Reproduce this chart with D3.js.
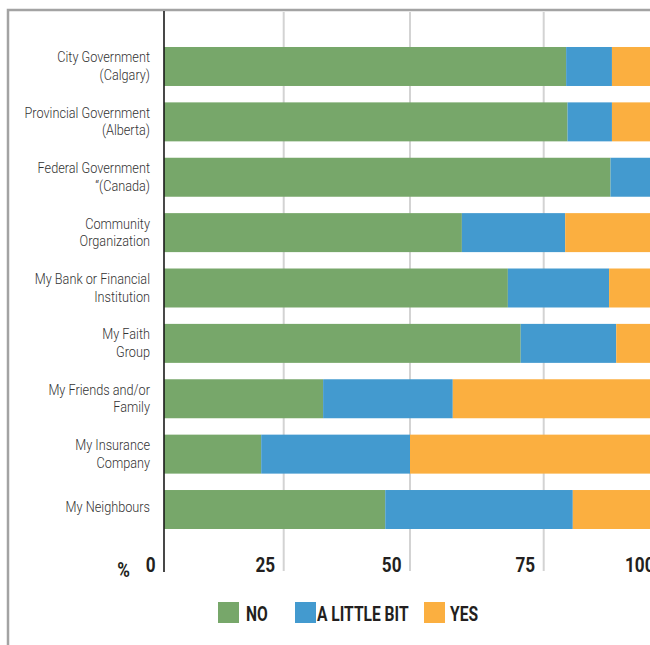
<!DOCTYPE html>
<html>
<head>
<meta charset="utf-8">
<script src="https://cdn.jsdelivr.net/npm/d3@7"></script>
<style>
  html, body { margin: 0; padding: 0; background: #fff; }
  svg { display: block; }
  .cat { font-family: "Roboto", "Noto Sans", sans-serif; font-weight: 300; font-size: 15.5px; fill: #333; }
  .bold { font-family: "Roboto", "Noto Sans", sans-serif; font-weight: bold; font-size: 19.5px; fill: #231f20; }
</style>
</head>
<body>
<svg id="chart" width="650" height="645"></svg>
<script>
// Survey answers per organisation, in percent
const categories = [
  "City Government\n(Calgary)",
  "Provincial Government\n(Alberta)",
  "Federal Government\n\u201C(Canada)",
  "Community\nOrganization",
  "My Bank or Financial\nInstitution",
  "My Faith\nGroup",
  "My Friends and/or\nFamily",
  "My Insurance\nCompany",
  "My Neighbours"
];
const noValues     = [79.7, 80.0, 89.0, 59.7, 68.3, 70.7, 32.8, 20.3, 45.1];
const littleValues = [ 9.6,  9.3, 10.0, 19.8, 20.4, 19.5, 25.2, 29.7, 36.0];
const yesValues    = [10.7, 10.7,  1.0, 20.5, 11.3,  9.8, 42.0, 50.0, 18.9];

const seriesKeys   = ["no", "little", "yes"];
const seriesLabels = ["NO", "A LITTLE BIT", "YES"];
const seriesColors = ["#77a76a", "#439acf", "#fbaf40"];
const tickValues   = [0, 25, 50, 75, 100];

const rows = categories.map((c, i) => ({
  cat: c, no: noValues[i], little: littleValues[i], yes: yesValues[i]
}));

const svg = d3.select("#chart");

// Condensed look: text squeezed horizontally around its anchor point
function condensed(parent, px, py, k) {
  return parent.append("g")
    .attr("transform", `translate(${px},${py}) scale(${k},1)`)
    .append("text");
}

// Outer frame (only top and left edges fall inside the view)
svg.append("path")
  .attr("d", "M8,650 L8,10 L660,10")
  .attr("fill", "none")
  .attr("stroke", "#a3a3a3")
  .attr("stroke-width", 2.5);

// Horizontal value scale; the printed grid is slightly uneven
const x = d3.scaleLinear()
  .domain(tickValues)
  .range([164, 283.7, 410, 543.7, 663]);

const y = d3.scaleBand()
  .domain(categories)
  .range([11, 565])
  .paddingInner(0.296)
  .paddingOuter(0.65);

const plotTop = 12, plotBottom = 571;

// Vertical grid lines
svg.append("g")
  .selectAll("line")
  .data(tickValues.slice(1))
  .join("line")
  .attr("x1", d => x(d)).attr("x2", d => x(d))
  .attr("y1", plotTop).attr("y2", plotBottom)
  .attr("stroke", "#d3d3d3")
  .attr("stroke-width", 2);

// Stacked bars
const layers = d3.stack().keys(seriesKeys)(rows);

svg.append("g")
  .selectAll("g")
  .data(layers)
  .join("g")
  .attr("fill", (d, i) => seriesColors[i])
  .selectAll("rect")
  .data(d => d)
  .join("rect")
  .attr("x", d => x(d[0]))
  .attr("width", d => Math.max(0, x(d[1]) - x(d[0])))
  .attr("y", d => y(d.data.cat))
  .attr("height", y.bandwidth());

// Zero axis line
svg.append("line")
  .attr("x1", x(0)).attr("x2", x(0))
  .attr("y1", plotTop - 1).attr("y2", plotBottom + 1)
  .attr("stroke", "#1a1a1a")
  .attr("stroke-width", 1.6);

// Category labels
const lineH = 17.5;
const catG = svg.append("g");
categories.forEach(c => {
  const lines = c.split("\n");
  const cy = y(c) + y.bandwidth() / 2;
  lines.forEach((ln, i) => {
    const base = lines.length === 1 ? cy + 2 : cy - 4 + i * lineH;
    condensed(catG, 150, base, 0.82)
      .attr("class", "cat")
      .attr("text-anchor", "end")
      .text(ln);
  });
});

// Tick labels
const tickG = svg.append("g");
tickValues.forEach(v => {
  condensed(tickG, x(v) - 8.5, 572, 0.88)
    .attr("class", "bold")
    .attr("text-anchor", "end")
    .text(v);
});

condensed(svg, 130, 577, 0.88)
  .attr("class", "bold")
  .attr("text-anchor", "end")
  .text("%");

// Legend
const legendX = [218, 295, 424];
const legendTextGap = [28, 22, 26];
const lg = svg.append("g");
seriesLabels.forEach((lab, i) => {
  lg.append("rect")
    .attr("x", legendX[i]).attr("y", 602)
    .attr("width", 21).attr("height", 21)
    .attr("fill", seriesColors[i]);
  condensed(lg, legendX[i] + legendTextGap[i], 621, 0.8)
    .attr("class", "bold")
    .text(lab);
});
</script>
</body>
</html>
